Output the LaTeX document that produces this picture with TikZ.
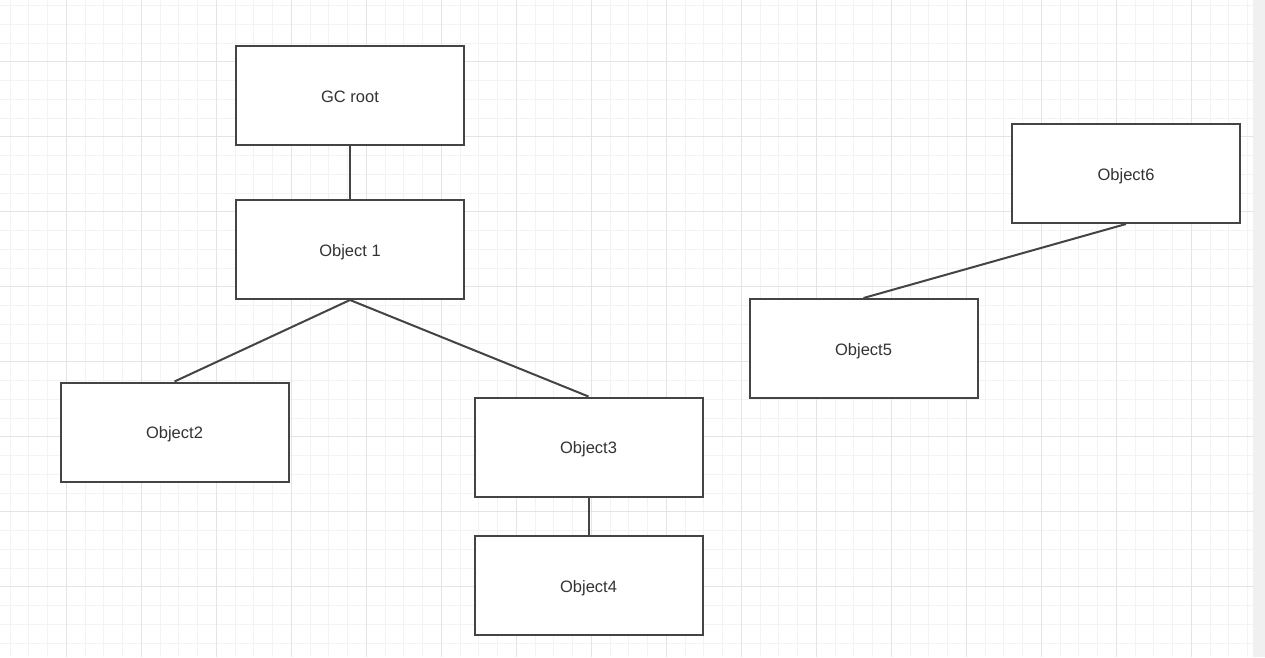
\documentclass[tikz,border=0pt]{standalone}
\usepackage{fontspec}
\setmainfont{Liberation Sans}
\definecolor{gridminor}{HTML}{F3F3F3}
\definecolor{gridmajor}{HTML}{E4E4E4}
\definecolor{strip}{HTML}{F0F0F0}
\definecolor{edgecol}{HTML}{444444}
\definecolor{txtcol}{HTML}{333333}
\tikzset{
  obj/.style={draw=edgecol, line width=2pt, fill=white, minimum width=228pt, minimum height=99pt, inner sep=0pt, text height=13pt, text depth=0pt, text=txtcol, font=\fontsize{16.5}{18}\selectfont},
  link/.style={draw=edgecol, line width=2pt}
}
\begin{document}
\begin{tikzpicture}[x=1pt,y=-1pt]
\useasboundingbox (0,0) rectangle (1265,657);
\fill[white] (0,0) rectangle (1253,657);
% minor grid
\foreach \i in {0,...,66} {
  \draw[gridminor, line width=1pt] ({10+18.75*\i},0) -- ({10+18.75*\i},657);
}
\foreach \j in {0,...,35} {
  \draw[gridminor, line width=1pt] (0,{5.5+18.75*\j}) -- (1253,{5.5+18.75*\j});
}
% major grid
\foreach \i in {0,...,15} {
  \draw[gridmajor, line width=1pt] ({66.25+75*\i},0) -- ({66.25+75*\i},657);
}
\foreach \j in {0,...,8} {
  \draw[gridmajor, line width=1pt] (0,{61.75+75*\j}) -- (1253,{61.75+75*\j});
}
\fill[strip] (1253,0) rectangle (1265,657);

\node[obj] (gc) at (350,95.5) {GC root};
\node[obj] (o1) at (350,249.5) {Object 1};
\node[obj] (o2) at (174.5,432) {Object2};
\node[obj] (o3) at (588.5,447) {Object3};
\node[obj] (o4) at (588.5,585.5) {Object4};
\node[obj] (o5) at (863.5,348.5) {Object5};
\node[obj] (o6) at (1126,173.5) {Object6};

\draw[link] (gc.south) -- (o1.north);
\draw[link] (o1.south) -- (o2.north);
\draw[link] (o1.south) -- (o3.north);
\draw[link] (o3.south) -- (o4.north);
\draw[link] (o6.south) -- (o5.north);
\end{tikzpicture}
\end{document}
